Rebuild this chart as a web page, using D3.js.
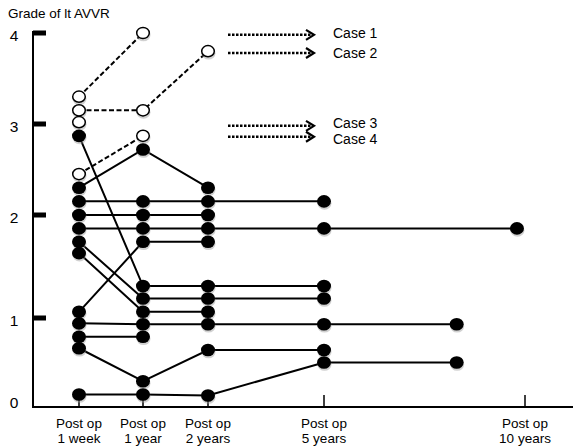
<!DOCTYPE html>
<html>
<head>
<meta charset="utf-8">
<script src="https://cdn.jsdelivr.net/npm/d3@7"></script>
<style>
  body { margin: 0; background: #fff; }
  text { font-family: "Liberation Sans", Arial, sans-serif; fill: #000; }
</style>
</head>
<body>
<div id="chart"></div>
<script>
// x positions are in years after the operation (0 = 1 week)
const xTickYears = [0, 1, 2, 5, 10];
const xTickLabels = [["Post op", "1 week"], ["Post op", "1 year"], ["Post op", "2 years"], ["Post op", "5 years"], ["Post op", "10 years"]];
const yTicks = [0, 1, 2, 3, 4];

// patients followed with solid lines (filled dots)
const solidSeries = [
  [[0, 2.87], [1, 1.31], [2, 1.31], [5, 1.31]],
  [[0, 2.3], [1, 2.72], [2, 2.3]],
  [[0, 2.15], [1, 2.15], [2, 2.15], [5, 2.15]],
  [[0, 2.0], [1, 2.0], [2, 2.0]],
  [[0, 1.87], [1, 1.87], [2, 1.87], [5, 1.87], [9.8, 1.87]],
  [[0, 1.74], [1, 1.19], [2, 1.19], [5, 1.19]],
  [[0, 1.63], [1, 1.06], [2, 1.06]],
  [[0, 1.06], [1, 1.74], [2, 1.74]],
  [[0, 0.94], [1, 0.93], [2, 0.93], [5, 0.93], [8.3, 0.93]],
  [[0, 0.79], [1, 0.79]],
  [[0, 0.66], [1, 0.29], [2, 0.64], [5, 0.64]],
  [[0, 0.14], [1, 0.14], [2, 0.13], [5, 0.5], [8.3, 0.5]]
];

// the four cases (open dots, dashed lines)
const caseSeries = [
  [[0, 3.3], [1, 4.0]],
  [[0, 3.15], [1, 3.15], [2, 3.8]],
  [[0, 3.02]],
  [[0, 2.45], [1, 2.87]]
];
const caseLabels = ["Case 1", "Case 2", "Case 3", "Case 4"];
const caseArrowGrade = [3.98, 3.78, 2.98, 2.86];
const caseLabelGrade = [3.95, 3.72, 2.96, 2.78];

const width = 573;
const height = 447;

const svg = d3.select("#chart")
  .append("svg")
  .attr("width", width)
  .attr("height", height);

// the original axis is not evenly spaced, so use piecewise scales
const x = d3.scaleLinear()
  .domain(xTickYears)
  .range([79, 143, 208, 324, 525]);

const y = d3.scaleLinear()
  .domain(yTicks)
  .range([407, 318, 215, 124, 33]);

const axisLeft = 33;

// axes lines
svg.append("line")
  .attr("x1", axisLeft).attr("x2", axisLeft)
  .attr("y1", y(4) - 2).attr("y2", y(0))
  .attr("stroke", "#000").attr("stroke-width", 2);

svg.append("line")
  .attr("x1", axisLeft - 1).attr("x2", width)
  .attr("y1", y(0)).attr("y2", y(0))
  .attr("stroke", "#000").attr("stroke-width", 2);

// y ticks: thick little bars
svg.selectAll(".ytick")
  .data(yTicks.filter(d => d > 0))
  .enter().append("rect")
  .attr("class", "ytick")
  .attr("x", axisLeft)
  .attr("y", d => y(d) - 2.5)
  .attr("width", 13)
  .attr("height", 5)
  .attr("fill", "#000");

svg.selectAll(".ylab")
  .data(yTicks)
  .enter().append("text")
  .attr("class", "ylab")
  .attr("x", 14)
  .attr("y", d => d === 0 ? y(d) + 1 : y(d) + 7.5)
  .attr("text-anchor", "middle")
  .style("font-size", "15.5px")
  .text(d => d);

// x ticks point up from the axis
svg.selectAll(".xtick")
  .data(xTickYears)
  .enter().append("line")
  .attr("class", "xtick")
  .attr("x1", d => x(d)).attr("x2", d => x(d))
  .attr("y1", y(0)).attr("y2", y(0) - 12)
  .attr("stroke", "#000").attr("stroke-width", 1.5);

const xlab = svg.selectAll(".xlab")
  .data(xTickYears)
  .enter().append("text")
  .attr("class", "xlab")
  .attr("text-anchor", "middle")
  .style("font-size", "13.5px");

xlab.append("tspan")
  .attr("x", d => x(d))
  .attr("y", 428)
  .text((d, i) => xTickLabels[i][0]);

xlab.append("tspan")
  .attr("x", d => x(d))
  .attr("y", 443)
  .text((d, i) => xTickLabels[i][1]);

// title
svg.append("text")
  .attr("x", 8)
  .attr("y", 18)
  .style("font-size", "13.5px")
  .text("Grade of lt AVVR");

const line = d3.line()
  .x(d => x(d[0]))
  .y(d => y(d[1]));

// lines
svg.selectAll(".solid")
  .data(solidSeries)
  .enter().append("path")
  .attr("class", "solid")
  .attr("d", line)
  .attr("fill", "none")
  .attr("stroke", "#000")
  .attr("stroke-width", 2);

svg.selectAll(".dashed")
  .data(caseSeries.filter(d => d.length > 1))
  .enter().append("path")
  .attr("class", "dashed")
  .attr("d", line)
  .attr("fill", "none")
  .attr("stroke", "#000")
  .attr("stroke-width", 2)
  .attr("stroke-dasharray", "5,2.5");

// dot shadows
const allSolid = solidSeries.flat();
const allCase = caseSeries.flat();

svg.selectAll(".shadow")
  .data(allSolid.concat(allCase))
  .enter().append("ellipse")
  .attr("class", "shadow")
  .attr("cx", d => x(d[0]) + 0.5)
  .attr("cy", d => y(d[1]) + 2)
  .attr("rx", 7)
  .attr("ry", 6.3)
  .attr("fill", "#999")
  .attr("opacity", 0.45);

// dots
svg.selectAll(".dot")
  .data(allSolid)
  .enter().append("ellipse")
  .attr("class", "dot")
  .attr("cx", d => x(d[0]))
  .attr("cy", d => y(d[1]))
  .attr("rx", 7)
  .attr("ry", 6.3)
  .attr("fill", "#000");

svg.selectAll(".odot")
  .data(allCase)
  .enter().append("ellipse")
  .attr("class", "odot")
  .attr("cx", d => x(d[0]))
  .attr("cy", d => y(d[1]))
  .attr("rx", 6.3)
  .attr("ry", 5.6)
  .attr("fill", "#fff")
  .attr("stroke", "#000")
  .attr("stroke-width", 1.5);

// case arrows with labels
const arrows = svg.selectAll(".arrow")
  .data(caseLabels)
  .enter().append("g")
  .attr("class", "arrow");

arrows.append("line")
  .attr("x1", 228).attr("x2", 313)
  .attr("y1", (d, i) => y(caseArrowGrade[i]))
  .attr("y2", (d, i) => y(caseArrowGrade[i]))
  .attr("stroke", "#000")
  .attr("stroke-width", 2.5)
  .attr("stroke-dasharray", "2.5,1.5");

arrows.append("path")
  .attr("d", (d, i) => `M306,${y(caseArrowGrade[i]) - 5} L314,${y(caseArrowGrade[i])} L306,${y(caseArrowGrade[i]) + 5}`)
  .attr("fill", "none")
  .attr("stroke", "#000")
  .attr("stroke-width", 2.2);

arrows.append("text")
  .attr("x", 333)
  .attr("y", (d, i) => y(caseLabelGrade[i]))
  .style("font-size", "14px")
  .text(d => d);
</script>
</body>
</html>
